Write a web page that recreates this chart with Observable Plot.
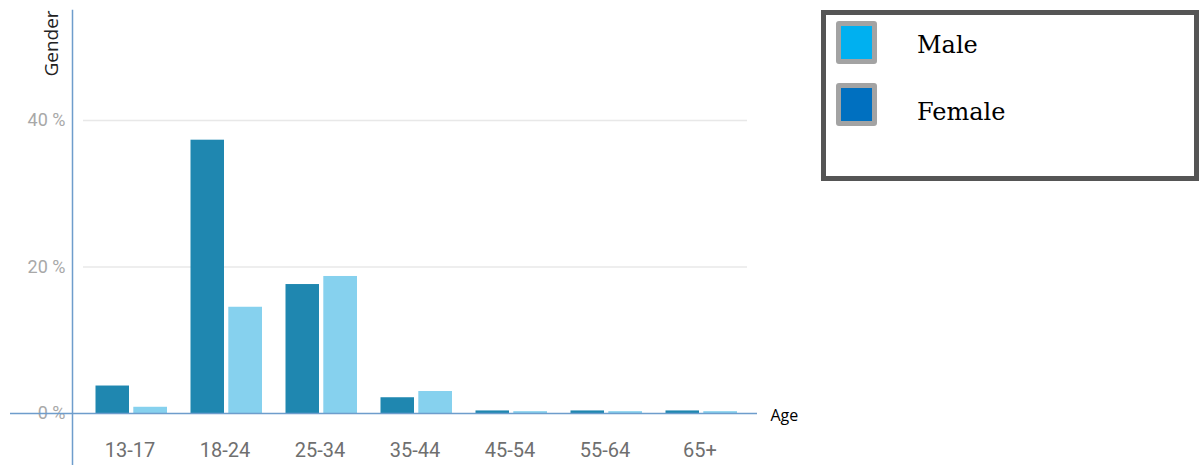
<!DOCTYPE html>
<html>
<head>
<meta charset="utf-8">
<script src="https://cdn.jsdelivr.net/npm/d3@7"></script>
<script src="https://cdn.jsdelivr.net/npm/@observablehq/plot@0.6"></script>
<style>
  html, body { margin: 0; padding: 0; background: #fff; }
  #wrap { position: relative; width: 1199px; height: 465px; overflow: hidden; }
  #chart svg { display: block; }
  .legend {
    position: absolute; left: 821px; top: 10px; width: 378px; height: 171px;
    box-sizing: border-box; border: 5px solid #555; background: #fff;
    font-family: "DejaVu Serif", serif; font-size: 24px; color: #000;
  }
  .legend .sw {
    position: absolute; left: 10px;
    width: 31px; height: 33px; border: 5px solid #a3a3a3; border-radius: 3px; box-sizing: content-box;
  }
  .legend .lab { position: absolute; left: 91px; line-height: 1; }
</style>
</head>
<body>
<div id="wrap">
  <div id="chart"></div>
  <div class="legend" id="legend"></div>
</div>
<script>
// Age groups on the horizontal axis
const ages = ["13-17", "18-24", "25-34", "35-44", "45-54", "55-64", "65+"];
// Share of audience (%) per age group
const female = [3.75, 37.3, 17.6, 2.15, 0.35, 0.35, 0.35];
const male   = [0.85, 14.5, 18.7, 3.0, 0.25, 0.25, 0.25];
// Y tick values
const yTicks = [0, 20, 40];
// Legend entries and their swatch colours
const legendLabels = ["Male", "Female"];
const legendColors = ["#00B0F0", "#0070C0"];

const rows = ages.flatMap((age, i) => [
  {age, sex: "Female", share: female[i]},
  {age, sex: "Male", share: male[i]}
]);

const axisBlue = "#6e9dcc";

const chart = Plot.plot({
  width: 1199,
  height: 465,
  marginLeft: 72,
  marginRight: 442,
  marginTop: 10,
  marginBottom: 52,
  style: {fontFamily: "Roboto, sans-serif", background: "transparent"},
  x: {domain: ages, paddingInner: 0, paddingOuter: 0.105, axis: null},
  y: {domain: [0, 55], axis: null},
  marks: [
    Plot.gridY([20, 40], {stroke: "#e8e8e8", strokeOpacity: 1, strokeWidth: 1.5, insetLeft: 11, insetRight: 10}),
    Plot.barY(rows.filter(d => d.sex === "Female"), {x: "age", y: "share", fill: "#1f87b0", insetLeft: 13.5, insetRight: 48}),
    Plot.barY(rows.filter(d => d.sex === "Male"), {x: "age", y: "share", fill: "#86d1ee", insetLeft: 51.3, insetRight: 10}),
    Plot.axisY({ticks: yTicks, tickFormat: d => `${d} %`, tickSize: 0, tickPadding: 7, fontSize: 18, fill: "#a8a8a8", label: null}),
    Plot.axisX({tickSize: 0, tickPadding: 29, fontSize: 20, fill: "#6f6f6f", label: null}),
    Plot.ruleY([0], {stroke: axisBlue, strokeWidth: 1.5, insetLeft: -62}),
    Plot.frame({anchor: "left", stroke: axisBlue, strokeWidth: 1.5, insetBottom: -52}),
    Plot.text(["Age"], {y: () => 0, frameAnchor: "right", textAnchor: "start", dx: 13, dy: 2, fontSize: 16, fill: "#000", fontFamily: "Open Sans"}),
    Plot.text(["Gender"], {frameAnchor: "top-left", rotate: -90, textAnchor: "middle", dx: -28, dy: 33, fontSize: 19, fill: "#222", fontFamily: "Open Sans"})
  ]
});
document.getElementById("chart").append(chart);

// Legend box with two swatches
const legend = document.getElementById("legend");
const swatchTops = [6, 68];
const labelTops = [18, 85];
legendLabels.forEach((label, i) => {
  const sw = document.createElement("div");
  sw.className = "sw";
  sw.style.top = swatchTops[i] + "px";
  sw.style.background = legendColors[i];
  const lab = document.createElement("span");
  lab.className = "lab";
  lab.style.top = labelTops[i] + "px";
  lab.textContent = label;
  legend.append(sw, lab);
});
</script>
</body>
</html>
